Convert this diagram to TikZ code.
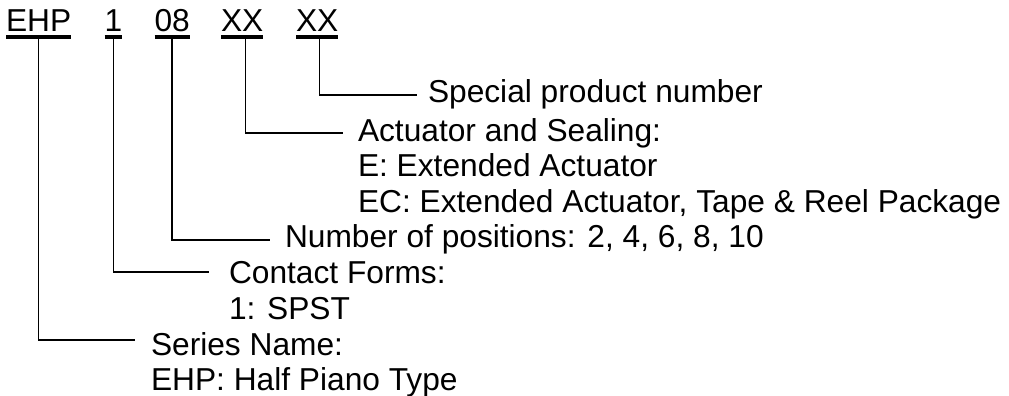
\documentclass[tikz,border=0pt]{standalone}
\usepackage{fontspec}
\setmainfont{Liberation Sans}
\begin{document}
\begin{tikzpicture}[x=1pt,y=-1pt,
  lbl/.style={anchor=base west,inner sep=0pt,outer sep=0pt,font=\fontsize{31.7}{36}\selectfont},
  ul/.style={line width=3.5pt},
  conn/.style={line width=1.5pt}]
\useasboundingbox[fill=white] (0,0) rectangle (1009,396);
% code letters
\node[lbl] (ehp) at (6,32) {EHP};
\node[lbl] (one) at (104.5,32) {1};
\node[lbl] (oe) at (154.5,32) {08};
\node[lbl] (xa) at (221,32) {XX};
\node[lbl] (xb) at (296,32) {XX};
\foreach \n in {ehp,one,oe,xa,xb}
  \draw[ul] ([yshift=-5pt]\n.base west) -- ([yshift=-5pt]\n.base east);
% descriptions
\node[lbl] (spn) at (428,102) {Special product number};
\node[lbl] (act) at (358,141) {Actuator and Sealing:};
\node[lbl] (acte) at (358,176.5) {E: Extended Actuator};
\node[lbl] (actec) at (358,212) {EC: Extended Actuator, Tape \& Reel Package};
\node[lbl] (num) at (285,247.5) {Number of positions: 2, 4, 6, 8, 10};
\node[lbl] (cf) at (229,283) {Contact Forms:};
\node[lbl] (cf1) at (229,319) {1: SPST};
\node[lbl] (sn) at (151,355) {Series Name:};
\node[lbl] (sn1) at (151,390.5) {EHP: Half Piano Type};
% connectors
\draw[conn] ([xshift=2.5pt,yshift=-5pt]xb.base) |- ([xshift=-11pt,yshift=7pt]spn.base west);
\draw[conn] ([xshift=3.5pt,yshift=-5pt]xa.base) |- ([xshift=-15pt,yshift=8pt]act.base west);
\draw[conn] ([yshift=-5pt]oe.base) |- ([xshift=-15pt,yshift=7.5pt]num.base west);
\draw[conn] ([yshift=-5pt]one.base) |- ([xshift=-20pt,yshift=11pt]cf.base west);
\draw[conn] ([yshift=-5pt]ehp.base) |- ([xshift=-16pt,yshift=15pt]sn.base west);
\end{tikzpicture}
\end{document}
